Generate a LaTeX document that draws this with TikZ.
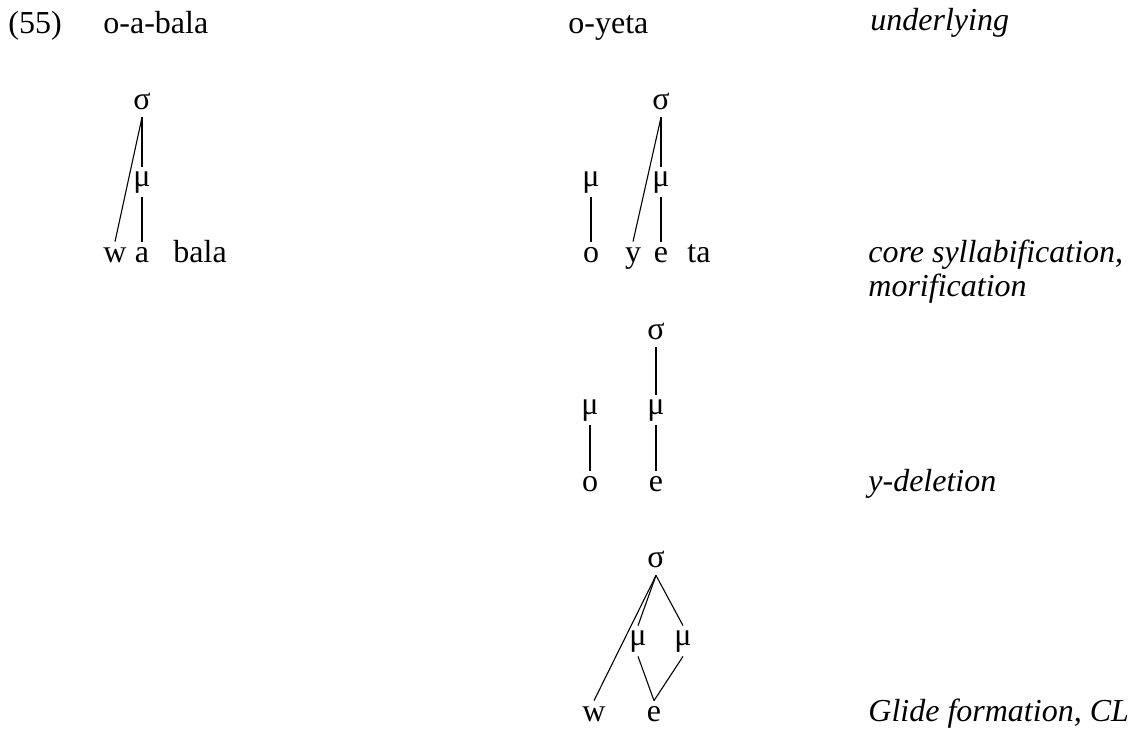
\documentclass[tikz,border=0pt]{standalone}
\usepackage{fontspec}
\setmainfont{Liberation Serif}
\begin{document}
\begin{tikzpicture}[x=0.5pt,y=-0.5pt,
  every node/.style={font=\fontsize{16pt}{19pt}\selectfont, inner sep=0pt},
  word/.style={anchor=base west},
  lab/.style={anchor=base west, font=\fontsize{16pt}{19pt}\selectfont\itshape},
  sig/.style={anchor=center, text height=7.2pt, text depth=0pt, minimum height=15pt},
  mu/.style={anchor=center, text height=7.2pt, text depth=3.2pt, minimum height=15pt},
  seg/.style={anchor=base, text height=10pt, text depth=0pt},
  assoc/.style={line width=0.55pt}]
\useasboundingbox (0,0) rectangle (1133,728);
% header
\node[word] (ex) at (8,33) {(55)};
\node[word] (h1) at (103,33) {o-a-bala};
\node[word] (h2) at (568,33) {o-yeta};
\node[lab] (l1) at (870,30) {underlying};
% tree 1
\node[sig] (s1) at (142,102) {σ};
\node[mu] (m1) at (142,182) {μ};
\node[seg] (w1) at (115,262) {w};
\node[seg] (a1) at (142,262) {a};
\node[word] (b1) at (173,262) {bala};
\draw[assoc] (s1.south) -- (w1.north);
\draw[assoc] (s1.south) -- (m1.north);
\draw[assoc] (m1.south) -- (a1.north);
% tree 2
\node[sig] (s2) at (661,102) {σ};
\node[mu] (m2a) at (591,182) {μ};
\node[mu] (m2b) at (661,182) {μ};
\node[seg] (o2) at (591,262) {o};
\node[seg] (y2) at (633,262) {y};
\node[seg] (e2) at (661,262) {e};
\node[word] (t2) at (687,262) {ta};
\draw[assoc] (s2.south) -- (y2.north);
\draw[assoc] (s2.south) -- (m2b.north);
\draw[assoc] (m2a.south) -- (o2.north);
\draw[assoc] (m2b.south) -- (e2.north);
\node[lab] (l2) at (868,262) {core syllabification,};
\node[lab] (l2b) at (868,296) {morification};
% tree 3
\node[sig] (s3) at (656,332) {σ};
\node[mu] (m3a) at (590,410) {μ};
\node[mu] (m3b) at (656,410) {μ};
\node[seg] (o3) at (590,491) {o};
\node[seg] (e3) at (656,491) {e};
\draw[assoc] (s3.south) -- (m3b.north);
\draw[assoc] (m3a.south) -- (o3.north);
\draw[assoc] (m3b.south) -- (e3.north);
\node[lab] (l3) at (868,491) {y-deletion};
% tree 4
\node[sig] (s4) at (656,560) {σ};
\node[mu] (m4a) at (638,641) {μ};
\node[mu] (m4b) at (683,641) {μ};
\node[seg] (w4) at (594,721) {w};
\node[seg] (e4) at (654,721) {e};
\draw[assoc] (s4.south) -- (w4.north);
\draw[assoc] (s4.south) -- (m4a.north);
\draw[assoc] (s4.south) -- (m4b.north);
\draw[assoc] (m4a.south) -- (e4.north);
\draw[assoc] (m4b.south) -- (e4.north);
\node[lab] (l4) at (868,721) {Glide formation, CL};
\end{tikzpicture}
\end{document}
